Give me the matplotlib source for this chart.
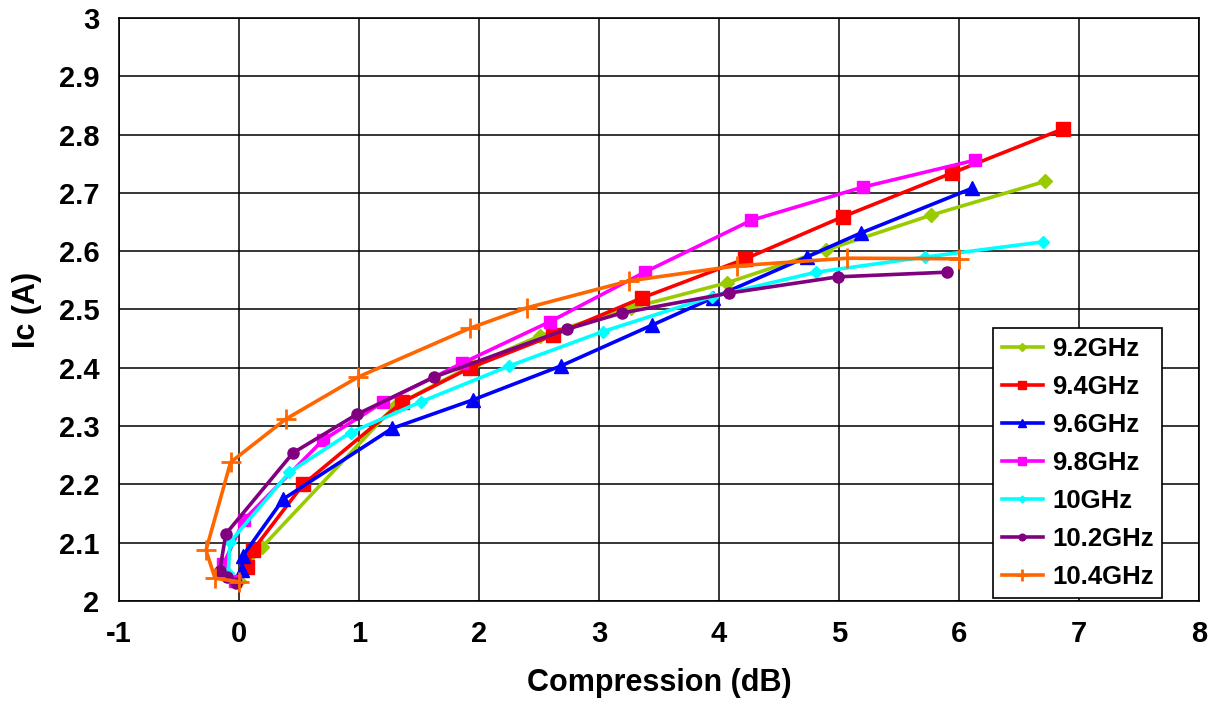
import matplotlib
matplotlib.use("Agg")
import matplotlib.pyplot as plt

plt.rcParams['font.family'] = ['Liberation Sans', 'DejaVu Sans']
plt.rcParams['font.weight'] = 'bold'

labels = ["9.2GHz", "9.4GHz", "9.6GHz", "9.8GHz", "10GHz", "10.2GHz", "10.4GHz"]

x92 = [0.0, 0.07, 0.19, 1.3, 1.95, 2.51, 3.27, 4.07, 4.89, 5.77, 6.72]
y92 = [2.035, 2.06, 2.092, 2.335, 2.405, 2.455, 2.503, 2.546, 2.602, 2.662, 2.72]

x94 = [0.065, 0.115, 0.535, 1.36, 1.925, 2.62, 3.36, 4.22, 5.03, 5.94, 6.87]
y94 = [2.059, 2.087, 2.2, 2.341, 2.4, 2.456, 2.52, 2.587, 2.659, 2.734, 2.81]

x96 = [0.025, 0.03, 0.37, 1.275, 1.95, 2.68, 3.44, 3.95, 4.73, 5.18, 6.11]
y96 = [2.053, 2.077, 2.175, 2.296, 2.345, 2.403, 2.473, 2.52, 2.59, 2.631, 2.708]

x98 = [-0.03, -0.13, 0.04, 0.7, 1.2, 1.86, 2.59, 3.38, 4.27, 5.2, 6.13]
y98 = [2.035, 2.063, 2.139, 2.276, 2.341, 2.408, 2.479, 2.564, 2.653, 2.71, 2.756]

x100 = [-0.09, -0.075, 0.42, 0.93, 1.52, 2.25, 3.03, 3.94, 4.81, 5.72, 6.7]
y100 = [2.048, 2.101, 2.221, 2.289, 2.342, 2.403, 2.462, 2.522, 2.564, 2.59, 2.616]

x102 = [-0.025, -0.1, -0.16, -0.11, 0.45, 0.98, 1.625, 2.73, 3.19, 4.08, 4.99, 5.9]
y102 = [2.031, 2.041, 2.052, 2.115, 2.254, 2.32, 2.384, 2.466, 2.494, 2.528, 2.556, 2.564]

x104 = [0.0, -0.2, -0.275, -0.07, 0.39, 0.99, 1.925, 2.4, 3.25, 4.15, 5.07, 6.0]
y104 = [2.033, 2.039, 2.087, 2.238, 2.312, 2.384, 2.468, 2.503, 2.549, 2.575, 2.588, 2.587]

xs = [x92, x94, x96, x98, x100, x102, x104]
ys = [y92, y94, y96, y98, y100, y102, y104]
colors = ["#99CC00", "#FF0000", "#0000FF", "#FF00FF", "#00FFFF", "#800080", "#FF6600"]
markers = ["D", "s", "^", "s", "D", "o", "+"]
msizes = [7, 10, 10, 9, 6, 8, 14]

fig = plt.figure(figsize=(12.13, 7.17), dpi=100)
ax = fig.add_axes([0.0981, 0.1618, 0.8904, 0.8131])

for x, y, c, m, ms, lab in zip(xs, ys, colors, markers, msizes, labels):
    ax.plot(x, y, color=c, marker=m, markersize=ms, linewidth=2.6, label=lab,
            markeredgewidth=2 if m == "+" else 1, markeredgecolor=c, markerfacecolor=c)

ax.set_xlim(-1, 8)
ax.set_ylim(2, 3)
ax.set_xticks(range(-1, 9))
ax.set_yticks([2 + i * 0.1 for i in range(11)])
ax.set_xticklabels([str(v) for v in range(-1, 9)])
ax.set_yticklabels(["2", "2.1", "2.2", "2.3", "2.4", "2.5", "2.6", "2.7", "2.8", "2.9", "3"])
ax.grid(True, color="black", linewidth=1.1)
ax.set_axisbelow(True)
ax.tick_params(axis='both', labelsize=21, length=0, pad=14)
for lab in ax.get_xticklabels() + ax.get_yticklabels():
    lab.set_fontweight('bold')
for s in ax.spines.values():
    s.set_color("black")
    s.set_linewidth(1.2)

ax.set_xlabel("Compression (dB)", fontsize=22, fontweight='bold', labelpad=14)
ax.set_ylabel("Ic (A)", fontsize=22, fontweight='bold', labelpad=12)

leg = ax.legend(loc='lower right', bbox_to_anchor=(0.9685, 0.0), fontsize=18.5,
                frameon=True, fancybox=False, edgecolor='black', framealpha=1,
                handlelength=1.6, labelspacing=0.55, handletextpad=0.35,
                borderpad=0.35, markerscale=0.6, borderaxespad=0.1)
leg.get_frame().set_linewidth(1.2)
for t in leg.get_texts():
    t.set_fontweight('bold')

fig.savefig("out.png", dpi=100)
